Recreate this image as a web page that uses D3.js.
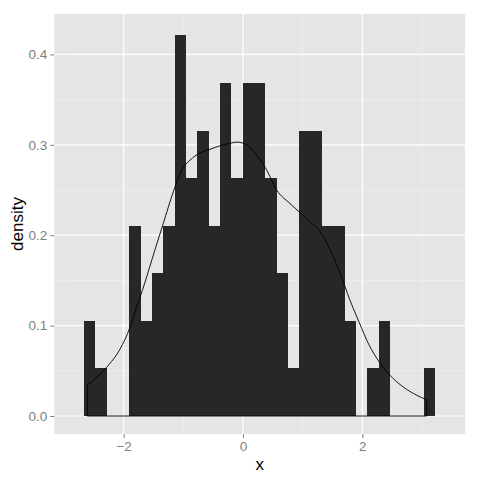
<!DOCTYPE html>
<html lang="en">
<head>
<meta charset="UTF-8">
<title>Histogram with density</title>
<script src="https://d3js.org/d3.v7.min.js"></script>
<style>
  body { margin: 0; background: #fff; }
  svg { font-family: "Liberation Sans", Arial, sans-serif; }
</style>
</head>
<body>
<div id="chart"></div>
<script>
// histogram: 31 bins of width 0.19 starting at -2.665, n = 100
var binStart = -2.665,
    binWidth = 0.19,
    sampleSize = 100;
var counts = [2, 1, 0, 0, 4, 2, 3, 4, 8, 5, 6, 4, 7, 5, 7, 7, 5, 3, 1, 6, 6, 4, 4, 2, 0, 1, 2, 0, 0, 0, 1];

// kernel density curve
var densX = [-2.609, -2.284, -2.061, -1.894, -1.781, -1.681, -1.475, -1.336, -1.168, -1.027,
             -0.888, -0.721, -0.553, -0.385, -0.2, -0.106, 0.062, 0.23, 0.397, 0.565,
             0.788, 0.955, 1.123, 1.29, 1.458, 1.626, 1.793, 1.989, 2.073, 2.24,
             2.464, 2.687, 2.911, 3.078];
var densY = [0.034, 0.054, 0.074, 0.098, 0.121, 0.140, 0.184, 0.213, 0.248, 0.272,
             0.283, 0.291, 0.295, 0.299, 0.302, 0.303, 0.300, 0.289, 0.272, 0.250,
             0.235, 0.225, 0.215, 0.204, 0.184, 0.158, 0.128, 0.097, 0.084, 0.064,
             0.045, 0.032, 0.023, 0.018];

var xTicks = [-2, 0, 2],
    xMinor = [-3, -1, 1, 3],
    yTicks = [0, 0.1, 0.2, 0.3, 0.4],
    yMinor = [0.05, 0.15, 0.25, 0.35];

var width = 480, height = 480;
var margin = {top: 14, right: 15, bottom: 46, left: 54.3};

var svg = d3.select("#chart").append("svg")
    .attr("width", width)
    .attr("height", height);

var x = d3.scaleLinear()
    .domain([-3.162, 3.72])
    .range([margin.left, width - margin.right]);

var y = d3.scaleLinear()
    .domain([-0.0199, 0.4447])
    .range([height - margin.bottom, margin.top]);

// panel
svg.append("rect")
    .attr("x", margin.left)
    .attr("y", margin.top)
    .attr("width", width - margin.right - margin.left)
    .attr("height", height - margin.bottom - margin.top)
    .attr("fill", "#E5E5E5");

// minor grid
svg.append("g").selectAll("line")
    .data(xMinor).join("line")
    .attr("x1", d => x(d)).attr("x2", d => x(d))
    .attr("y1", margin.top).attr("y2", height - margin.bottom)
    .attr("stroke", "#F2F2F2").attr("stroke-width", 0.6);
svg.append("g").selectAll("line")
    .data(yMinor).join("line")
    .attr("y1", d => y(d)).attr("y2", d => y(d))
    .attr("x1", margin.left).attr("x2", width - margin.right)
    .attr("stroke", "#F2F2F2").attr("stroke-width", 0.6);

// major grid
svg.append("g").selectAll("line")
    .data(xTicks).join("line")
    .attr("x1", d => x(d)).attr("x2", d => x(d))
    .attr("y1", margin.top).attr("y2", height - margin.bottom)
    .attr("stroke", "#fff").attr("stroke-width", 1.2);
svg.append("g").selectAll("line")
    .data(yTicks).join("line")
    .attr("y1", d => y(d)).attr("y2", d => y(d))
    .attr("x1", margin.left).attr("x2", width - margin.right)
    .attr("stroke", "#fff").attr("stroke-width", 1.2);

// bars
var bins = counts.map((c, i) => ({
    x0: binStart + i * binWidth,
    x1: binStart + (i + 1) * binWidth,
    density: c / (sampleSize * binWidth)
}));

svg.append("g")
    .attr("shape-rendering", "crispEdges")
    .selectAll("rect")
    .data(bins.filter(d => d.density > 0)).join("rect")
    .attr("x", d => Math.round(x(d.x0)))
    .attr("width", d => Math.round(x(d.x1)) - Math.round(x(d.x0)))
    .attr("y", d => Math.round(y(d.density)))
    .attr("height", d => Math.round(y(0)) - Math.round(y(d.density)))
    .attr("fill", "#272727");

// density outline (closed down to zero at both ends)
var pts = densX.map((d, i) => [d, densY[i]]);
var curve = d3.line()
    .x(d => x(d[0]))
    .y(d => y(d[1]))
    .curve(d3.curveMonotoneX);

var first = pts[0], last = pts[pts.length - 1];
var path = "M" + x(first[0]) + "," + y(0) +
    "L" + curve(pts).slice(1) +
    "L" + x(last[0]) + "," + y(0) + "Z";

svg.append("path")
    .attr("d", path)
    .attr("fill", "none")
    .attr("stroke", "#000")
    .attr("stroke-width", 0.9);

// axes
var xAxis = svg.append("g")
    .attr("transform", `translate(0,${height - margin.bottom})`)
    .call(d3.axisBottom(x).tickValues(xTicks).tickSize(4).tickPadding(3).tickFormat(d3.format("d")));
var yAxis = svg.append("g")
    .attr("transform", `translate(${margin.left},0)`)
    .call(d3.axisLeft(y).tickValues(yTicks).tickSize(4).tickPadding(3).tickFormat(d3.format(".1f")));

[xAxis, yAxis].forEach(a => {
    a.select(".domain").remove();
    a.selectAll(".tick line").attr("stroke", "#7F7F7F");
    a.selectAll(".tick text")
        .attr("fill", "#7F7F7F")
        .style("font-size", "13.5px")
        .style("font-family", "'Liberation Sans', Arial, sans-serif");
});

// axis titles
svg.append("text")
    .attr("x", (margin.left + width - margin.right) / 2)
    .attr("y", 470)
    .attr("text-anchor", "middle")
    .style("font-size", "17px")
    .text("x");

svg.append("text")
    .attr("transform", `translate(23,${(margin.top + height - margin.bottom) / 2}) rotate(-90)`)
    .attr("text-anchor", "middle")
    .style("font-size", "17px")
    .text("density");
</script>
</body>
</html>
